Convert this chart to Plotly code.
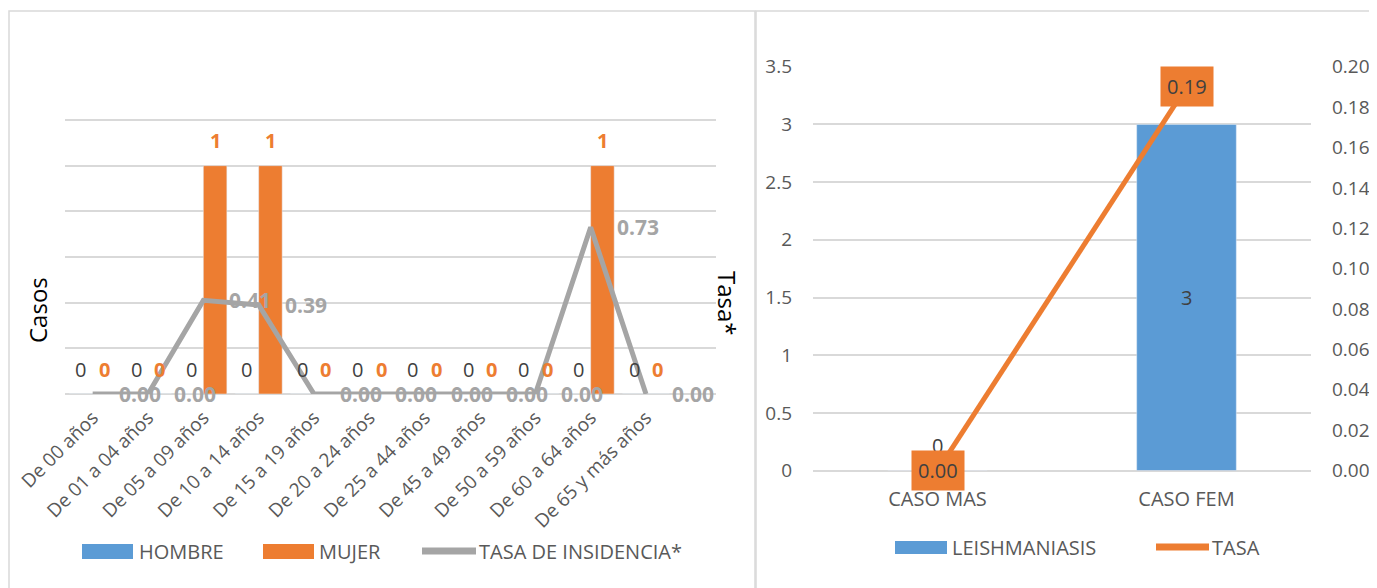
import plotly.graph_objects as go

# ---------------- data ----------------
age_groups = ["De 00 años", "De 01 a 04 años", "De 05 a 09 años", "De 10 a 14 años",
              "De 15 a 19 años", "De 20 a 24 años", "De 25 a 44 años", "De 45 a 49 años",
              "De 50 a 59 años", "De 60 a 64 años", "De 65 y más años"]
hombre = [0, 0, 0, 0, 0, 0, 0, 0, 0, 0, 0]
mujer = [0, 0, 1, 1, 0, 0, 0, 0, 0, 1, 0]
tasa_incidencia = [0.00, 0.00, 0.41, 0.39, 0.00, 0.00, 0.00, 0.00, 0.00, 0.73, 0.00]

sexo_cats = ["CASO MAS", "CASO FEM"]
leishmaniasis = [0, 3]
tasa = [0.00, 0.19]

# ---------------- style ----------------
OFF = 8  # page body margin
W, H = 1377 - OFF, 588 - OFF
FONT = "Open Sans"
BLUE = "#5B9BD5"
ORANGE = "#ED7D31"
GRAYLINE = "#A5A5A5"
GRID = "#D9D9D9"
TXT = "#595959"
DARK = "#404040"


def X(px):
    return (px - OFF) / W


def Y(py):
    return 1 - (py - OFF) / H


# left plot: 0 at y=394 px, 1.2 at y=120 px; extend range slightly so the top gridline shows
LTOP = 1.22
left_top_px = 394 - LTOP * (394 - 120) / 1.2

fig = go.Figure()

# left chart
fig.add_trace(go.Bar(x=age_groups, y=hombre, name="HOMBRE", marker_color=BLUE,
                     xaxis="x", yaxis="y", showlegend=False))
fig.add_trace(go.Bar(x=age_groups, y=mujer, name="MUJER", marker_color=ORANGE,
                     xaxis="x", yaxis="y", showlegend=False))
fig.add_trace(go.Scatter(x=age_groups, y=tasa_incidencia, name="TASA DE INSIDENCIA*",
                         mode="lines", line=dict(color=GRAYLINE, width=5),
                         xaxis="x", yaxis="y2", showlegend=False))

# right chart
fig.add_trace(go.Bar(x=sexo_cats, y=leishmaniasis, name="LEISHMANIASIS", marker_color=BLUE,
                     width=0.4, xaxis="x2", yaxis="y3", showlegend=False))
fig.add_trace(go.Scatter(x=sexo_cats, y=tasa, name="TASA", mode="lines",
                         line=dict(color=ORANGE, width=5),
                         xaxis="x2", yaxis="y4", showlegend=False))

ann = []
bw = 0.2125
for i, v in enumerate(hombre):
    ann.append(dict(x=i - bw, y=v, xref="x", yref="y", text=str(v), showarrow=False,
                    yshift=25, font=dict(color=DARK, size=20)))
for i, v in enumerate(mujer):
    ann.append(dict(x=i + bw, y=v, xref="x", yref="y", text=f"<b>{v}</b>", showarrow=False,
                    yshift=25, font=dict(color=ORANGE, size=20)))
for i, v in enumerate(tasa_incidencia):
    ann.append(dict(x=i, y=v, xref="x", yref="y2", text=f"<b>{v:.2f}</b>", showarrow=False,
                    xanchor="left", xshift=24, yanchor="middle",
                    font=dict(color=GRAYLINE, size=21)))
for i, v in enumerate(leishmaniasis):
    if v == 0:
        ann.append(dict(x=i, y=v, xref="x2", yref="y3", text=str(v), showarrow=False,
                        yshift=25, font=dict(color=DARK, size=20)))
    else:
        ann.append(dict(x=i, y=v / 2, xref="x2", yref="y3", text=str(v), showarrow=False,
                        font=dict(color=DARK, size=20)))
for i, v in enumerate(tasa):
    ann.append(dict(x=i, y=v, xref="x2", yref="y4", text=f"{v:.2f}", showarrow=False,
                    bgcolor=ORANGE, borderpad=6, font=dict(color=DARK, size=20)))

# axis titles
ann.append(dict(x=X(37), y=Y(310), xref="paper", yref="paper", text="Casos", textangle=-90,
                xanchor="center", yanchor="middle",
                showarrow=False, font=dict(color="black", size=24)))
ann.append(dict(x=X(728), y=Y(303), xref="paper", yref="paper", text="Tasa*", textangle=90,
                xanchor="center", yanchor="middle",
                showarrow=False, font=dict(color="black", size=24)))

shapes = []
# panel borders
shapes.append(dict(type="rect", xref="paper", yref="paper", x0=X(9), x1=X(755), y0=Y(600), y1=Y(11),
                   line=dict(color=GRID, width=1.5)))
shapes.append(dict(type="rect", xref="paper", yref="paper", x0=X(756), x1=X(1390), y0=Y(600), y1=Y(11),
                   line=dict(color=GRID, width=1.5)))

# custom legends
def legend_rect(x0, x1, y0, y1, color):
    shapes.append(dict(type="rect", xref="paper", yref="paper", x0=X(x0), x1=X(x1),
                       y0=Y(y1), y1=Y(y0), fillcolor=color, line=dict(width=0)))


def legend_line(x0, x1, y, color):
    shapes.append(dict(type="line", xref="paper", yref="paper", x0=X(x0), x1=X(x1),
                       y0=Y(y), y1=Y(y), line=dict(color=color, width=7)))


def legend_text(x, y, t):
    ann.append(dict(x=X(x), y=Y(y), xref="paper", yref="paper", text=t, showarrow=False,
                    xanchor="left", yanchor="middle", font=dict(color=TXT, size=20)))


legend_rect(82, 133, 544, 559, BLUE)
legend_text(137, 551, "HOMBRE")
legend_rect(263, 314, 544, 559, ORANGE)
legend_text(317, 551, "MUJER")
legend_line(422, 476, 551, GRAYLINE)
legend_text(477, 551, "TASA DE INSIDENCIA*")

legend_rect(895, 947, 541, 554, BLUE)
legend_text(950, 547, "LEISHMANIASIS")
legend_line(1156, 1209, 547, ORANGE)
legend_text(1210, 547, "TASA")

fig.update_layout(
    width=W, height=H,
    margin=dict(l=0, r=0, t=0, b=0, autoexpand=False),
    paper_bgcolor="white", plot_bgcolor="white",
    font=dict(family=FONT, color=TXT),
    barmode="group", bargap=0.15, bargroupgap=0,
    showlegend=False,
    xaxis=dict(domain=[X(65), X(716)], anchor="y", type="category", tickangle=-45,
               tickfont=dict(size=19, color=TXT), showgrid=False, ticks="",
               showline=False, zeroline=False, automargin=False, ticklabelstandoff=8),
    yaxis=dict(domain=[Y(394), Y(left_top_px)], anchor="x", range=[0, LTOP],
               tickvals=[0.2, 0.4, 0.6, 0.8, 1.0, 1.2],
               showticklabels=False, gridcolor=GRID, gridwidth=1.5, zeroline=True,
               zerolinecolor=GRID, zerolinewidth=2, ticks="", automargin=False),
    yaxis2=dict(overlaying="y", side="right", anchor="x", range=[0, LTOP],
                showgrid=False, showticklabels=False, zeroline=False, ticks="",
                automargin=False),
    xaxis2=dict(domain=[X(813), X(1311)], anchor="y3", type="category",
                tickfont=dict(size=20, color=TXT), showgrid=False, ticks="",
                showline=False, zeroline=False, automargin=False, ticklabelstandoff=14),
    yaxis3=dict(domain=[Y(470.6), Y(66.7)], anchor="x2", range=[0, 3.5001], dtick=0.5,
                tickfont=dict(size=19, color=TXT), gridcolor=GRID, gridwidth=1.5,
                zeroline=True, zerolinecolor=GRID, zerolinewidth=2, ticks="",
                ticklabelstandoff=20, automargin=False),
    yaxis4=dict(overlaying="y3", side="right", anchor="x2", range=[0, 0.20003], dtick=0.02,
                tickformat=".2f", tickfont=dict(size=19, color=TXT), showgrid=False,
                zeroline=False, ticks="", ticklabelstandoff=20, automargin=False),
    annotations=ann,
    shapes=shapes,
)

fig.write_html("out.html")
